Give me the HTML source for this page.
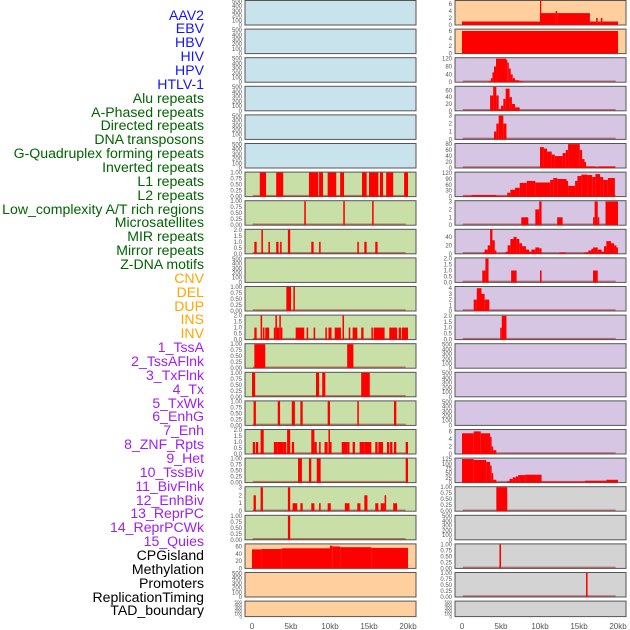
<!DOCTYPE html>
<html><head><meta charset="utf-8">
<style>
html,body{margin:0;padding:0;background:#fff;}
body{width:630px;height:630px;overflow:hidden;position:relative;font-family:"Liberation Sans",sans-serif;}
#labels{position:absolute;left:0;top:0;width:204px;height:630px;}
.lab{position:absolute;right:0;font-size:14.1px;line-height:14px;white-space:nowrap;text-align:right;}
svg{position:absolute;left:0;top:0;}
</style></head>
<body>
<div id="labels"></div>
<svg id="chart" width="630" height="630"></svg>
<script>
// ---------- data ----------
const trackLabels = ["AAV2","EBV","HBV","HIV","HPV","HTLV-1","Alu repeats","A-Phased repeats","Directed repeats","DNA transposons","G-Quadruplex forming repeats","Inverted repeats","L1 repeats","L2 repeats","Low_complexity A/T rich regions","Microsatellites","MIR repeats","Mirror repeats","Z-DNA motifs","CNV","DEL","DUP","INS","INV","1_TssA","2_TssAFlnk","3_TxFlnk","4_Tx","5_TxWk","6_EnhG","7_Enh","8_ZNF_Rpts","9_Het","10_TssBiv","11_BivFlnk","12_EnhBiv","13_ReprPC","14_ReprPCWk","15_Quies","CPGisland","Methylation","Promoters","ReplicationTiming","TAD_boundary"];
const labelGroups = [6,13,5,15,5];
const xTickValues = [0,5,10,15,20];
const xTickLabels = ["0","5kb","10kb","15kb","20kb"];
const ticks500 = [0,100,200,300,400,500];
const ticks1 = [0,0.25,0.5,0.75,1.0];
const ticks2 = [0,0.5,1.0,1.5,2.0];
const ticks3 = [0,1,2,3];

// segments: [startKb, endKb, value]
const leftL1 = [[1.0,1.8,1],[3.1,4.0,1],[7.3,8.5,1],[8.6,9.1,1],[9.7,10.8,1],[11.3,11.8,1],[14.1,14.7,1],[15.0,16.2,1],[16.4,16.8,1],[17.2,18.1,1],[19.5,20.0,1]];
const leftL2 = [[6.7,6.9,1],[11.7,11.9,1],[15.4,15.6,1]];
const leftLowComplex = [[0.3,0.6,1],[1.2,1.4,2],[2.1,2.3,1],[3.1,3.4,1],[3.6,3.8,1],[4.6,4.9,2],[7.6,7.9,1],[8.6,8.8,1],[13.5,13.7,1],[14.4,14.7,1],[15.8,16.1,1]];
const leftMIR = [[4.4,5.0,1],[5.3,5.5,1]];
const leftMirror = [[0.3,0.6,1],[1.1,1.3,2],[1.4,1.6,1],[1.7,2.2,1],[2.8,3.0,1],[3.0,3.2,2],[3.2,3.5,1],[3.5,3.7,2],[3.7,3.9,1],[5.6,6.7,1],[7.0,7.2,1],[7.9,8.1,1],[9.4,9.6,1],[9.8,10.2,1],[10.6,11.4,1],[11.6,11.8,2],[12.4,12.6,1],[12.9,13.5,1],[14.0,14.3,1],[15.3,15.5,1],[15.6,17.0,1],[17.6,18.6,1],[18.8,19.1,1],[19.2,20.0,1]];
const leftZDNA = [[0.3,1.7,1],[12.2,13.0,1]];
const leftCNV = [[0.0,0.4,1],[8.2,8.6,1],[9.0,9.4,1],[14.0,15.1,1]];
const leftDEL = [[0.2,0.5,1],[3.3,3.6,1],[5.1,5.5,1],[6.2,6.5,1],[9.7,10.0,1],[13.5,13.7,1],[18.2,18.5,1]];
const leftDUP = [[0.1,0.4,1],[0.5,0.8,1],[1.1,1.5,2],[2.8,3.3,1],[3.3,4.0,1],[4.0,4.4,1],[4.5,4.9,2],[5.1,5.4,1],[7.6,8.0,2],[8.0,8.3,1],[8.6,8.8,1],[9.3,9.7,1],[9.8,10.0,2],[10.0,10.2,1],[11.5,12.2,1],[12.2,12.5,1],[12.9,13.2,1],[13.8,14.4,1],[14.4,15.0,1],[15.0,15.3,1],[15.8,16.1,1],[16.2,16.8,1],[17.3,17.6,1],[17.7,18.0,1],[18.2,18.5,1],[19.7,20.0,1]];
const leftINS = [[5.9,6.4,1],[7.3,7.6,1],[8.3,8.8,1],[19.7,20.0,1]];
const leftINV = [[0.2,0.5,2],[1.1,1.4,3],[4.6,4.9,3],[5.2,5.8,1],[6.2,6.5,1],[7.6,8.0,1],[8.6,8.8,1],[9.7,10.1,1],[11.9,12.5,1],[13.5,13.9,1],[14.4,14.8,2],[15.8,16.2,1],[16.5,16.8,1],[16.8,17.0,1],[17.0,17.2,2],[18.1,18.6,1]];
const leftTssA = [[4.6,4.9,1]];
const leftCpG = [[0.0,1.2,52],[1.2,3.8,53],[3.8,10.0,55],[10.0,10.3,62],[10.3,11.3,60],[11.3,15.3,58],[15.3,20.0,56]];

const rightAAV2 = [[0.0,10.0,1],[10.0,10.1,7],[10.1,12.0,3.4],[12.0,12.2,4],[12.2,16.4,3.4],[16.4,17.2,1],[17.2,17.4,2],[17.4,17.8,1],[17.8,18.0,2],[18.0,20.0,1]];
const rightEBV = [[0.0,20.0,6]];
const rightHIV = [[3.4,3.7,5],[3.7,3.9,20],[3.9,4.1,50],[4.1,4.36,80],[4.36,5.64,120],[5.64,5.8,115],[5.8,6.0,100],[6.0,6.24,70],[6.24,6.5,40],[6.5,6.8,20],[6.8,7.35,10],[7.35,7.8,5]];
const rightHPV = [[3.6,4.0,45],[4.0,4.4,70],[4.4,4.7,45],[4.7,5.0,5],[5.0,5.3,15],[5.3,5.6,35],[5.6,6.1,65],[6.1,6.4,40],[6.4,6.8,20],[6.8,7.4,10]];
const rightHTLV = [[4.1,4.4,1],[4.4,4.7,2],[4.7,5.3,3],[5.3,5.7,2]];
const rightAlu = [[10.0,10.5,70],[10.5,10.9,65],[10.9,11.5,55],[11.5,11.9,45],[11.9,12.9,40],[12.9,13.3,50],[13.3,13.6,60],[13.6,15.1,80],[15.1,15.4,60],[15.4,15.7,30],[15.7,15.9,20],[15.9,17.1,5],[17.1,17.5,3],[17.5,19.6,5]];
const rightAPhased = [[0.2,1.2,4],[1.2,4.4,8],[4.4,5.8,4],[5.8,6.2,20],[6.2,6.8,35],[6.8,7.4,45],[7.4,8.3,70],[8.3,9.4,80],[9.4,11.3,72],[11.3,11.7,85],[11.7,12.2,95],[12.2,13.4,90],[13.4,13.6,80],[13.6,14.5,55],[14.5,14.8,80],[14.8,15.3,105],[15.3,16.1,112],[16.1,16.7,110],[16.7,17.1,100],[17.1,17.7,115],[17.7,18.1,100],[18.1,18.7,85],[18.7,19.6,95]];
const rightDirected = [[7.6,8.5,1],[9.4,9.9,2],[9.9,10.2,3],[12.2,12.9,1],[16.8,17.0,1],[17.0,17.4,3],[17.4,17.6,1],[18.4,20.0,3]];
const rightDNAtrans = [[2.7,2.9,3],[2.9,3.3,10],[3.3,3.6,20],[3.6,3.9,58],[3.9,4.2,32],[4.2,4.4,8],[5.6,5.85,5],[5.85,6.2,20],[6.2,6.6,35],[6.6,7.0,40],[7.0,7.35,35],[7.35,7.7,25],[7.7,8.2,18],[8.2,8.6,10],[8.6,8.9,5],[8.9,9.4,10],[9.4,9.9,15],[9.9,10.2,13],[12.5,13.3,3],[15.7,16.2,3],[16.2,16.6,8],[16.6,16.8,12],[16.8,17.4,15],[17.4,17.9,10],[17.9,18.2,5],[18.2,18.5,18],[18.5,19.1,30],[19.1,19.5,25],[19.5,19.8,20],[19.8,20.0,15]];
const rightGQuad = [[2.6,3.0,1],[3.0,3.4,2],[6.3,7.0,1],[10.0,10.2,1],[16.8,17.4,1]];
const rightInverted = [[1.5,1.9,2],[1.9,2.5,4],[2.5,2.9,3],[2.9,3.5,2]];
const rightL1 = [[4.9,5.1,1],[5.1,5.7,2]];
const rightTssA = [[0.0,1.5,5.5],[1.5,2.4,6],[2.4,3.6,5.5],[3.6,3.8,4.5],[3.8,4.0,2],[4.0,4.4,1]];
const rightTssAFlnk = [[0.0,1.5,125],[1.5,3.1,120],[3.1,3.6,110],[3.6,3.8,90],[3.8,4.0,50],[4.0,4.4,15],[5.8,6.1,8],[6.1,6.5,20],[6.5,6.9,28],[6.9,7.2,33],[7.2,8.1,40],[8.1,10.2,42],[10.2,15.8,5],[15.8,18.5,10],[18.5,20.0,15]];
const rightTxFlnk = [[4.4,5.8,1]];
const rightEnhG = [[4.8,5.0,1]];
const rightEnh = [[15.9,16.1,1]];

// panel configs: col, row, bg, ymax, ticks, segments
const BG = {blue:"#c8e3ec",green:"#c8e0a8",orange:"#ffd09e",purple:"#d6c6e3",gray:"#d3d3d3"};
const panels = [];
function addP(col,row,bg,ymax,ticks,segs,name){panels.push({col,row,bg,ymax,ticks,segs,name});}
for(let r=0;r<6;r++) addP(0,r,"blue",520,ticks500,null,"left-empty-"+r);
addP(0,6,"green",1.02,ticks1,leftL1,"left-panel-7");
addP(0,7,"green",1.02,ticks1,leftL2,"left-panel-8");
addP(0,8,"green",2.04,ticks2,leftLowComplex,"left-panel-9");
addP(0,9,"green",520,ticks500,null,"left-panel-10");
addP(0,10,"green",1.02,ticks1,leftMIR,"left-panel-11");
addP(0,11,"green",2.04,ticks2,leftMirror,"left-panel-12");
addP(0,12,"green",1.02,ticks1,leftZDNA,"left-panel-13");
addP(0,13,"green",1.02,ticks1,leftCNV,"left-panel-14");
addP(0,14,"green",1.02,ticks1,leftDEL,"left-panel-15");
addP(0,15,"green",2.04,ticks2,leftDUP,"left-panel-16");
addP(0,16,"green",1.02,ticks1,leftINS,"left-panel-17");
addP(0,17,"green",3.08,ticks3,leftINV,"left-panel-18");
addP(0,18,"green",1.02,ticks1,leftTssA,"left-panel-19");
addP(0,19,"orange",67,[0,20,40,60],leftCpG,"left-panel-20");
addP(0,20,"orange",520,ticks500,null,"left-panel-21");
addP(0,21,"orange",520,ticks500,null,"left-panel-22");

addP(1,0,"orange",7,[0,2,4,6],rightAAV2,"right-panel-1");
addP(1,1,"orange",6.5,[0,2,4,6],rightEBV,"right-panel-2");
addP(1,2,"purple",125,[0,40,80,120],rightHIV,"right-panel-3");
addP(1,3,"purple",72,[0,20,40,60],rightHPV,"right-panel-4");
addP(1,4,"purple",3.1,ticks3,rightHTLV,"right-panel-5");
addP(1,5,"purple",82,[0,20,40,60,80],rightAlu,"right-panel-6");
addP(1,6,"purple",125,[0,30,60,90,120],rightAPhased,"right-panel-7");
addP(1,7,"purple",3.1,ticks3,rightDirected,"right-panel-8");
addP(1,8,"purple",58,[0,20,40],rightDNAtrans,"right-panel-9");
addP(1,9,"purple",2.06,ticks2,rightGQuad,"right-panel-10");
addP(1,10,"purple",4.3,[0,1,2,3,4],rightInverted,"right-panel-11");
addP(1,11,"purple",2.06,ticks2,rightL1,"right-panel-12");
addP(1,12,"purple",520,ticks500,null,"right-panel-13");
addP(1,13,"purple",520,ticks500,null,"right-panel-14");
addP(1,14,"purple",520,ticks500,null,"right-panel-15");
addP(1,15,"purple",6.5,[0,2,4,6],rightTssA,"right-panel-16");
addP(1,16,"purple",130,[0,25,50,75,100,125],rightTssAFlnk,"right-panel-17");
addP(1,17,"gray",1.02,ticks1,rightTxFlnk,"right-panel-18");
addP(1,18,"gray",520,ticks500,null,"right-panel-19");
addP(1,19,"gray",1.02,ticks1,rightEnhG,"right-panel-20");
addP(1,20,"gray",1.02,ticks1,rightEnh,"right-panel-21");
addP(1,21,"gray",520,ticks500,null,"right-panel-22");

// ---------- layout ----------
const NS="http://www.w3.org/2000/svg";
const svg=document.getElementById("chart");
const colX=[245,455], colW=171, dataOff=7, dataW=156;
function rowTop(r){return 0.5+r*28.6;}
function rowH(r){return r===21?15.5:24.5;}
function xScale(col,kb){return colX[col]+dataOff+kb/20*dataW;}
function mk(tag,attrs){const e=document.createElementNS(NS,tag);for(const k in attrs)e.setAttribute(k,attrs[k]);return e;}
function fmt(t,ticks){
  if(ticks===ticks1) return t.toFixed(2);
  if(ticks===ticks2) return t.toFixed(1);
  return String(t);
}

panels.forEach(p=>{
  const g=mk("g",{});
  
  
  const top=rowTop(p.row), h=rowH(p.row), x0=colX[p.col];
  const bottom=top+h;
  const yS=v=>bottom-v/p.ymax*h;
  const bg=mk("rect",{x:x0,y:top,width:colW,height:h,fill:BG[p.bg],stroke:"#555",'stroke-width':1});
  
  
  g.appendChild(bg);
  if(p.segs){
    const bl=mk("line",{x1:xScale(p.col,0.1),x2:xScale(p.col,19.7),y1:bottom-1,y2:bottom-1,stroke:"rgba(150,0,0,0.45)",'stroke-width':1.5});
    
    
    g.appendChild(bl);
    p.segs.forEach(s=>{
      const xa=xScale(p.col,s[0]), xb=xScale(p.col,s[1]);
      const yv=Math.max(top,yS(s[2]));
      const r=mk("rect",{x:xa,y:yv,width:Math.max(1.2,xb-xa),height:bottom-yv,fill:"#ff0000"});
      
      
      g.appendChild(r);
    });
  }
  p.ticks.forEach(t=>{
    const tx=mk("text",{x:x0-3,y:yS(t)+2,'font-size':p.row===21?4.5:6,'text-anchor':"end",fill:"#555",'font-family':"Liberation Sans, sans-serif"});
    tx.textContent=fmt(t,p.ticks);
    
    
    g.appendChild(tx);
  });
  svg.appendChild(g);
});

[0,1].forEach(col=>{
  xTickValues.forEach((v,i)=>{
    const tx=mk("text",{x:xScale(col,v),y:629,'font-size':8,'text-anchor':"middle",fill:"#555",'font-family':"Liberation Sans, sans-serif"});
    tx.textContent=xTickLabels[i];
    
    
    svg.appendChild(tx);
  });
});

// labels
const labColors=["#1414ff","#006400","#ffa500","#a020f0","#000000"];
const labDiv=document.getElementById("labels");
let gi=0,cnt=0;
trackLabels.forEach((t,i)=>{
  if(cnt>=labelGroups[gi]){gi++;cnt=0;}
  cnt++;
  const d=document.createElement("div");
  d.className="lab";
  d.style.top=(15+i*13.86-7.5)+"px";
  d.style.color=labColors[gi];
  d.textContent=t;
  
  
  labDiv.appendChild(d);
});
</script>
</body></html>
